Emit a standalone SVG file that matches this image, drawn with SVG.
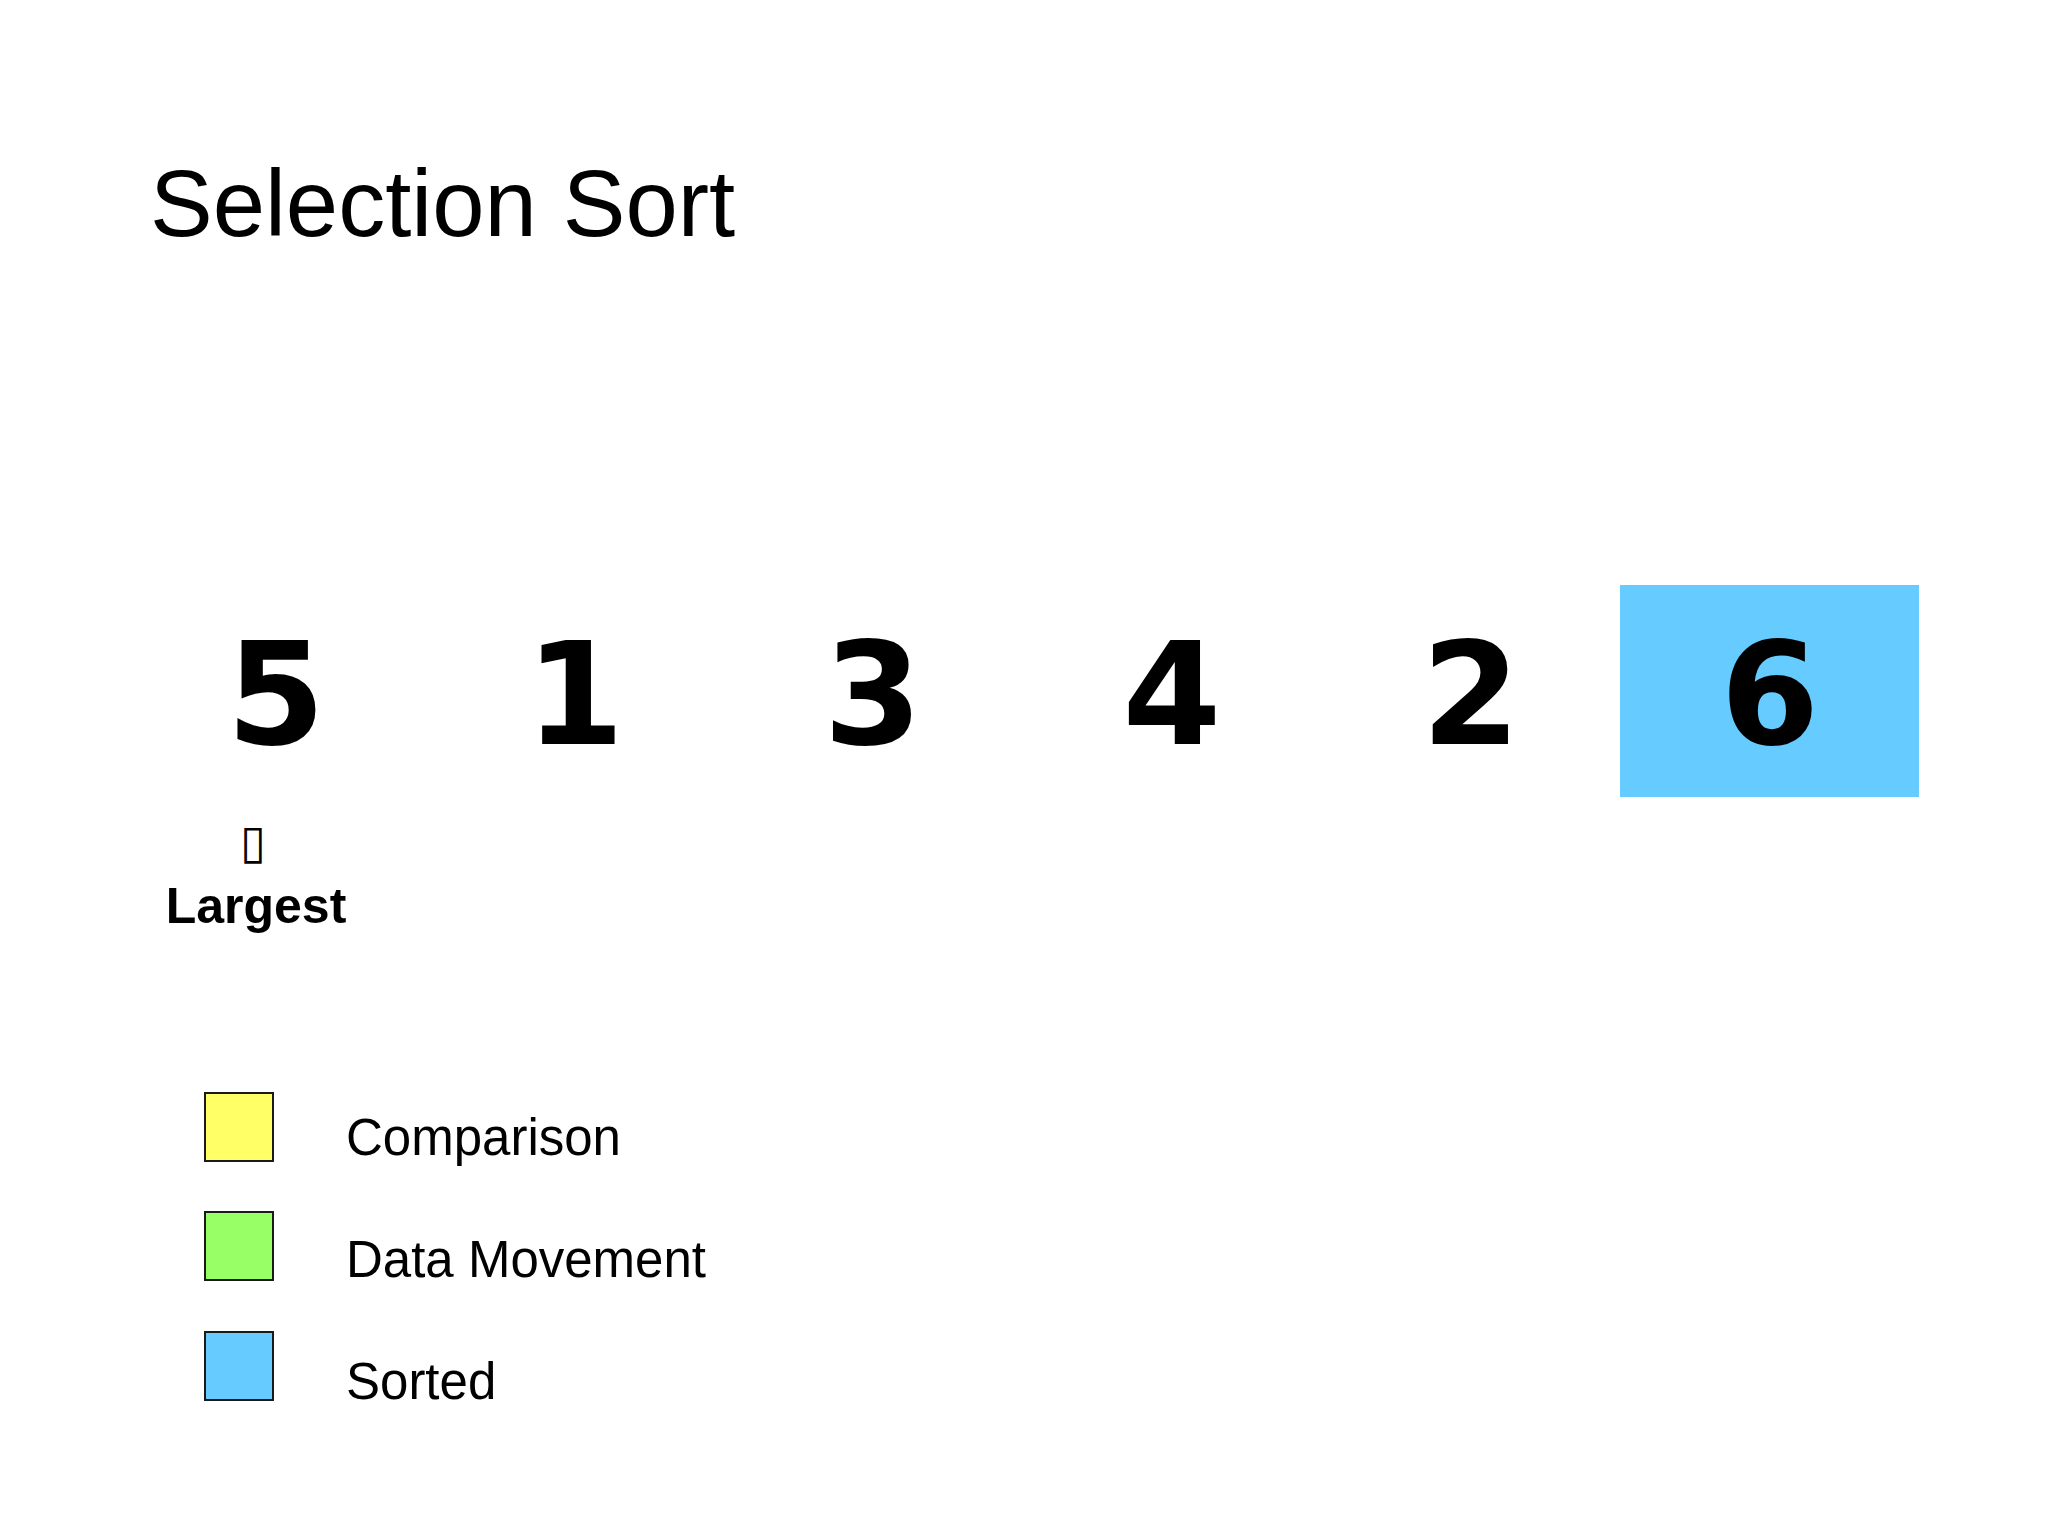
<svg xmlns="http://www.w3.org/2000/svg" width="2048" height="1536" viewBox="0 0 2048 1536">
<style>
.title{font-family:"Liberation Sans",Arial,sans-serif;font-size:94px;fill:#000}
.num{font-family:"DejaVu Sans",Verdana,sans-serif;font-weight:bold;font-size:142px;fill:#000;text-anchor:middle}
.lbl{font-family:"Liberation Sans",Arial,sans-serif;font-weight:bold;font-size:50px;fill:#000;text-anchor:middle}
.mark{font-family:"DejaVu Sans",sans-serif;font-size:47px;fill:#000;text-anchor:middle}
.leg{font-family:"Liberation Sans",Arial,sans-serif;font-size:51px;fill:#000}
.box{stroke:#1a1a1a;stroke-width:2}
</style>
<rect width="2048" height="1536" fill="#fff"/>
<g id="title"><text class="title" x="150" y="236">Selection Sort</text></g>
<g id="cell-0"><text class="num" x="276" y="744">5</text></g>
<g id="cell-1"><text class="num" x="575" y="744">1</text></g>
<g id="cell-2"><text class="num" x="873" y="744">3</text></g>
<g id="cell-3"><text class="num" x="1172" y="744">4</text></g>
<g id="cell-4"><text class="num" x="1471" y="744">2</text></g>
<g id="cell-5"><rect x="1620" y="585" width="299" height="212" fill="#66CCFF"/><text class="num" x="1770" y="744">6</text></g>
<g id="marker"><text class="mark" x="253" y="858">▯</text><text class="lbl" x="256" y="923">Largest</text></g>
<g id="legend">
<g id="legend-comparison"><rect class="box" x="205" y="1093" width="68" height="68" fill="#FFFF66"/><text class="leg" x="346" y="1155">Comparison</text></g>
<g id="legend-movement"><rect class="box" x="205" y="1212" width="68" height="68" fill="#99FF66"/><text class="leg" x="346" y="1277">Data Movement</text></g>
<g id="legend-sorted"><rect class="box" x="205" y="1332" width="68" height="68" fill="#66CCFF"/><text class="leg" x="346" y="1399">Sorted</text></g>
</g>
<g id="connectors"></g>
</svg>
